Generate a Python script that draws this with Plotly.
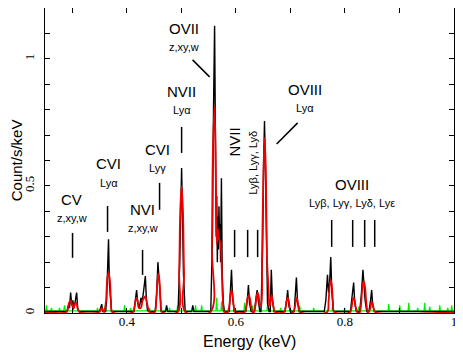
import plotly.graph_objects as go

data_energy = [0.25, 0.290, 0.293, 0.295, 0.297, 0.299, 0.301, 0.303, 0.305, 0.307, 0.308, 0.310, 0.312,
               0.350, 0.352, 0.354, 0.356,
               0.361, 0.363, 0.365, 0.3665, 0.368, 0.370, 0.372,
               0.413, 0.416, 0.418, 0.420, 0.423, 0.426, 0.428, 0.431, 0.434, 0.436, 0.438, 0.442,
               0.452, 0.455, 0.457, 0.459, 0.461, 0.463, 0.471, 0.473, 0.475,
               0.494, 0.497, 0.499, 0.5005, 0.502, 0.504, 0.507, 0.519, 0.521, 0.523,
               0.554, 0.557, 0.559, 0.561, 0.5625, 0.564, 0.565, 0.566, 0.567, 0.568, 0.569, 0.570,
               0.571, 0.572, 0.5735, 0.575, 0.577, 0.579,
               0.588, 0.590, 0.592, 0.594, 0.597, 0.618, 0.621, 0.623, 0.625, 0.628,
               0.634, 0.637, 0.639, 0.641, 0.644,
               0.646, 0.649, 0.651, 0.6525, 0.654, 0.656, 0.658, 0.661, 0.663, 0.665, 0.667, 0.670,
               0.690, 0.693, 0.695, 0.697, 0.700, 0.707, 0.709, 0.711, 0.713, 0.716,
               0.762, 0.765, 0.768, 0.770, 0.772, 0.774, 0.776, 0.779,
               0.810, 0.812, 0.814, 0.816, 0.818, 0.821,
               0.827, 0.830, 0.833, 0.835, 0.837, 0.840,
               0.844, 0.847, 0.849, 0.851, 0.854, 1.0]
data_rate = [0.006, 0.006, 0.03, 0.02, 0.08, 0.03, 0.05, 0.02, 0.04, 0.06, 0.08, 0.02, 0.006,
             0.006, 0.02, 0.035, 0.006,
             0.006, 0.05, 0.18, 0.29, 0.12, 0.05, 0.006,
             0.006, 0.05, 0.09, 0.04, 0.02, 0.06, 0.04, 0.09, 0.145, 0.05, 0.01, 0.006,
             0.006, 0.08, 0.2, 0.14, 0.06, 0.006, 0.006, 0.03, 0.006,
             0.006, 0.2, 0.45, 0.57, 0.4, 0.15, 0.006, 0.006, 0.03, 0.006,
             0.006, 0.3, 0.8, 1.13, 0.7, 0.3, 0.46, 0.2, 0.38, 0.25, 0.42, 0.3,
             0.35, 0.2, 0.53, 0.15, 0.04, 0.006,
             0.006, 0.08, 0.17, 0.06, 0.006, 0.006, 0.05, 0.11, 0.04, 0.006,
             0.006, 0.06, 0.09, 0.05, 0.006,
             0.006, 0.25, 0.6, 0.755, 0.6, 0.25, 0.04, 0.006, 0.006, 0.17, 0.05, 0.006,
             0.006, 0.05, 0.09, 0.03, 0.006, 0.006, 0.06, 0.14, 0.05, 0.006,
             0.006, 0.05, 0.15, 0.08, 0.12, 0.22, 0.08, 0.006,
             0.006, 0.04, 0.08, 0.12, 0.04, 0.006,
             0.006, 0.07, 0.17, 0.1, 0.05, 0.006,
             0.006, 0.05, 0.09, 0.03, 0.006, 0.006]

# best-fit model (red)
model_energy = [0.25, 0.289, 0.292, 0.294, 0.297, 0.300, 0.302, 0.305, 0.3075, 0.310, 0.314,
                0.349, 0.352, 0.354, 0.356, 0.359,
                0.359, 0.362, 0.364, 0.3665, 0.369, 0.371, 0.374,
                0.411, 0.414, 0.416, 0.418, 0.420, 0.422, 0.426, 0.429, 0.432, 0.434, 0.436, 0.439, 0.442,
                0.451, 0.454, 0.456, 0.458, 0.460, 0.462, 0.465,
                0.493, 0.496, 0.498, 0.5005, 0.503, 0.505, 0.508,
                0.553, 0.556, 0.558, 0.561, 0.5635, 0.565, 0.567, 0.569, 0.5715, 0.574, 0.576, 0.579,
                0.585, 0.588, 0.590, 0.592, 0.594, 0.596, 0.599,
                0.616, 0.619, 0.621, 0.6234, 0.626, 0.628, 0.631,
                0.633, 0.636, 0.638, 0.640, 0.642, 0.644,
                0.646, 0.648, 0.6505, 0.6528, 0.655, 0.657, 0.660,
                0.659, 0.662, 0.664, 0.6656, 0.667, 0.669, 0.672,
                0.688, 0.691, 0.693, 0.695, 0.697, 0.699, 0.702,
                0.705, 0.708, 0.710, 0.7115, 0.713, 0.715, 0.718,
                0.767, 0.770, 0.772, 0.774, 0.776, 0.778, 0.781,
                0.809, 0.812, 0.814, 0.816, 0.818, 0.820, 0.823,
                0.827, 0.830, 0.832, 0.8344, 0.837, 0.839, 0.842,
                0.843, 0.846, 0.848, 0.849, 0.851, 0.853, 0.856, 1.0]
model_rate = [0.003, 0.003, 0.015, 0.04, 0.05, 0.03, 0.015, 0.035, 0.04, 0.015, 0.003,
              0.003, 0.012, 0.02, 0.012, 0.003,
              0.003, 0.05, 0.13, 0.16, 0.13, 0.05, 0.003,
              0.003, 0.02, 0.048, 0.06, 0.048, 0.02, 0.02, 0.05, 0.06, 0.065, 0.05, 0.02, 0.003,
              0.003, 0.05, 0.125, 0.155, 0.125, 0.05, 0.003,
              0.003, 0.16, 0.4, 0.5, 0.4, 0.16, 0.003,
              0.003, 0.26, 0.65, 0.815, 0.5, 0.27, 0.33, 0.29, 0.28, 0.18, 0.06, 0.003,
              0.003, 0.03, 0.07, 0.09, 0.07, 0.03, 0.003,
              0.003, 0.025, 0.056, 0.07, 0.056, 0.025, 0.003,
              0.003, 0.03, 0.065, 0.08, 0.065, 0.03,
              0.03, 0.22, 0.55, 0.69, 0.55, 0.22, 0.03,
              0.03, 0.03, 0.056, 0.07, 0.056, 0.025, 0.003,
              0.003, 0.02, 0.048, 0.06, 0.048, 0.02, 0.003,
              0.003, 0.02, 0.048, 0.06, 0.048, 0.02, 0.003,
              0.003, 0.045, 0.105, 0.13, 0.105, 0.045, 0.003,
              0.003, 0.02, 0.048, 0.06, 0.048, 0.02, 0.003,
              0.003, 0.045, 0.1, 0.125, 0.1, 0.045, 0.003,
              0.003, 0.015, 0.036, 0.045, 0.036, 0.015, 0.003, 0.003]

# background (green)
bkg_energy = [0.25, 0.2515, 0.2528, 0.2541, 0.2605, 0.2619, 0.2633, 0.2752, 0.2766, 0.278,
              0.2844, 0.2858, 0.2872, 0.345, 0.3463, 0.3476, 0.3597, 0.361, 0.3623,
              0.3946, 0.3959, 0.3972, 0.4056, 0.4069, 0.4082, 0.4404, 0.4417, 0.443,
              0.4771, 0.4784, 0.4797, 0.4918, 0.4931, 0.4944, 0.5248, 0.5261, 0.5274,
              0.5359, 0.5372, 0.5385, 0.5634, 0.5647, 0.566, 0.5725, 0.5738, 0.5751,
              0.5854, 0.5867, 0.588, 0.6147, 0.616, 0.6173, 0.6294, 0.6307, 0.632,
              0.657, 0.6583, 0.6596, 0.6808, 0.6821, 0.6834, 0.7157, 0.717, 0.7183,
              0.7414, 0.7427, 0.744, 0.7762, 0.7775, 0.7788, 0.7982, 0.7995, 0.8008,
              0.8239, 0.8252, 0.8265, 0.879, 0.8803, 0.8816, 0.8992, 0.9005, 0.9018,
              0.9157, 0.917, 0.9183, 0.9322, 0.9335, 0.9348, 0.945, 0.9463, 0.9476,
              0.9542, 0.9555, 0.9568, 0.9726, 0.9739, 0.9752, 0.9872, 0.9885, 0.9898,
              0.9945, 0.9958, 0.9971, 1.0]
bkg_rate = [0.008, 0.008, 0.03, 0.008, 0.008, 0.02, 0.008, 0.008, 0.02, 0.008,
            0.008, 0.03, 0.008, 0.008, 0.02, 0.008, 0.008, 0.03, 0.008,
            0.008, 0.03, 0.008, 0.008, 0.02, 0.008, 0.008, 0.02, 0.008,
            0.008, 0.02, 0.008, 0.008, 0.03, 0.008, 0.008, 0.03, 0.008,
            0.008, 0.03, 0.008, 0.008, 0.06, 0.008, 0.008, 0.045, 0.008,
            0.008, 0.02, 0.008, 0.008, 0.04, 0.008, 0.008, 0.03, 0.008,
            0.008, 0.04, 0.008, 0.008, 0.02, 0.008, 0.008, 0.03, 0.008,
            0.008, 0.02, 0.008, 0.008, 0.03, 0.008, 0.008, 0.02, 0.008,
            0.008, 0.025, 0.008, 0.008, 0.035, 0.008, 0.008, 0.03, 0.008,
            0.008, 0.04, 0.008, 0.008, 0.02, 0.008, 0.008, 0.04, 0.008,
            0.008, 0.025, 0.008, 0.008, 0.03, 0.008, 0.008, 0.02, 0.008,
            0.008, 0.03, 0.008, 0.008]

# line identifications: (label, sub label, energy, y of label, y of sub label)
line_labels = [
    ("CV", "z,xy,w", 0.2986, 0.445, 0.374),
    ("CVI", "Lyα", 0.3665, 0.587, 0.512),
    ("NVI", "z,xy,w", 0.4289, 0.406, 0.335),
    ("CVI", "Lyγ", 0.4564, 0.642, 0.571),
    ("NVII", "Lyα", 0.5005, 0.87, 0.799),
    ("OVII", "z,xy,w", 0.504, 1.118, 1.047),
    ("OVIII", "Lyα", 0.7262, 0.878, 0.807),
    ("OVIII", "Lyβ, Lyγ, Lyδ, Lyε", 0.8124, 0.504, 0.433),
]
# marker bars: (energy, y bottom, y top)
line_bars = [(0.3005, 0.217, 0.315), (0.3647, 0.319, 0.421), (0.4289, 0.15, 0.248),
             (0.4601, 0.406, 0.512), (0.5005, 0.63, 0.732),
             (0.5977, 0.22, 0.327), (0.6216, 0.22, 0.327), (0.6399, 0.22, 0.327),
             (0.7757, 0.26, 0.366), (0.8142, 0.26, 0.366), (0.8362, 0.26, 0.366), (0.8546, 0.26, 0.366)]
# slanted pointers: (x0, y0, x1, y1)
pointers = [(0.5206, 0.996, 0.5518, 0.929), (0.7133, 0.748, 0.6748, 0.665)]

fig = go.Figure()
fig.add_trace(go.Scatter(x=bkg_energy, y=bkg_rate, mode="lines",
                         line=dict(color="#00ee00", width=1.2), showlegend=False))
fig.add_trace(go.Scatter(x=data_energy, y=data_rate, mode="lines",
                         line=dict(color="black", width=1.4), showlegend=False))
fig.add_trace(go.Scatter(x=model_energy, y=model_rate, mode="lines", line_shape="spline",
                         line=dict(color="#ee0000", width=1.8), showlegend=False))

label_font = dict(family="Liberation Sans, Arial, sans-serif", color="black")
for name, sub, e, y1, y2 in line_labels:
    fig.add_annotation(x=e, y=y1, text=name, showarrow=False, font=dict(size=15, **label_font))
    fig.add_annotation(x=e, y=y2, text=sub, showarrow=False, font=dict(size=11, **label_font))
# rotated NVII label
fig.add_annotation(x=0.5977, y=0.673, text="NVII", textangle=-90, showarrow=False,
                   font=dict(size=15, **label_font))
fig.add_annotation(x=0.6307, y=0.59, text="Lyβ, Lyγ, Lyδ", textangle=-90, showarrow=False,
                   font=dict(size=11, **label_font))

for e, yb, yt in line_bars:
    fig.add_shape(type="line", x0=e, x1=e, y0=yb, y1=yt, xref="x", yref="y",
                  line=dict(color="black", width=1.5))
for x0, y0, x1, y1 in pointers:
    fig.add_shape(type="line", x0=x0, x1=x1, y0=y0, y1=y1, xref="x", yref="y",
                  line=dict(color="black", width=1.5))

# axis titles
fig.add_annotation(x=0.5, y=-0.095, xref="paper", yref="paper", text="Energy (keV)",
                   xanchor="center", yanchor="middle",
                   showarrow=False, font=dict(size=16, **label_font))
fig.add_annotation(x=-0.069, y=0.5, xref="paper", yref="paper", text="Count/s/keV",
                   xanchor="center", yanchor="middle",
                   textangle=-90, showarrow=False, font=dict(size=15, **label_font))

tick_font = dict(family="Liberation Serif, Times New Roman, serif", size=13, color="black")
# page body has an 8px margin, so the figure is sized to fit the window after it
fig.update_layout(
    width=455, height=346,
    margin=dict(l=37, r=9, t=0, b=41),
    paper_bgcolor="white", plot_bgcolor="white",
    xaxis=dict(range=[0.25, 1.0], showline=True, linecolor="black", linewidth=1, mirror="ticks",
               ticks="inside", ticklen=5, tickcolor="black", showgrid=False, zeroline=False,
               automargin=False, tickmode="array", ticklabelstandoff=-4,
               tickvals=[0.3, 0.4, 0.5, 0.6, 0.7, 0.8, 0.9, 1.0],
               ticktext=["", "0.4", "", "0.6", "", "0.8", "", "1"],
               tickfont=tick_font),
    yaxis=dict(range=[0, 1.2], showline=True, linecolor="black", linewidth=1, mirror="ticks",
               ticks="inside", ticklen=5, tickcolor="black", showgrid=False, zeroline=False,
               automargin=False, tickmode="array", ticklabelstandoff=5,
               tickvals=[0, 0.1, 0.2, 0.3, 0.4, 0.5, 0.6, 0.7, 0.8, 0.9, 1.0, 1.1],
               ticktext=["0", "", "", "", "", "0.5", "", "", "", "", "1", ""],
               tickangle=-90, tickfont=tick_font),
)

fig.write_html("out.html")
